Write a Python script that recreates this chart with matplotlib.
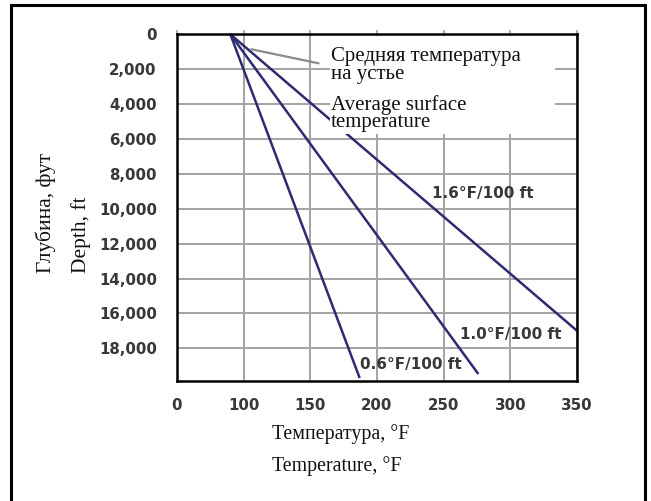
import numpy as np
import matplotlib
matplotlib.use("Agg")
import matplotlib.pyplot as plt
from matplotlib.patches import Rectangle

# ---- data ----
surface_temp = 80            # °F at depth 0
gradient_labels = ["0.6°F/100 ft", "1.0°F/100 ft", "1.6°F/100 ft"]
end_temps = [187, 276, 350]          # °F at line end
end_depths = [19700, 19470, 16990]   # ft at line end
pointer_temps = [106, 156]           # "average surface temperature" pointer
pointer_depths = [860, 1660]
x_ticks = [0, 100, 150, 200, 250, 300, 350]
y_ticks = [0, 2000, 4000, 6000, 8000, 10000, 12000, 14000, 16000, 18000]
y_max = 19870

W, H = 651, 501
fig = plt.figure(figsize=(W / 100, H / 100), dpi=100)
fig.patch.set_facecolor("white")

def fx(px):
    return px / W

def fy(py):
    return 1 - py / H

ax = fig.add_axes([fx(177), fy(381), fx(577) - fx(177), fy(34.3) - fy(381)])

# broken temperature axis: 0..100 compressed to one unit, then 50 °F per unit
def fwd(t):
    t = np.asarray(t, dtype=float)
    return np.where(t <= 100, t / 100.0, 1 + (t - 100) / 50.0)

def inv(p):
    p = np.asarray(p, dtype=float)
    return np.where(p <= 1, p * 100.0, 100 + (p - 1) * 50.0)

ax.set_xscale("function", functions=(fwd, inv))
ax.set_xlim(0, 350)
ax.set_ylim(y_max, 0)

grid_c = "#a3a3a3"
ax.set_xticks(x_ticks)
ax.set_yticks(y_ticks)
ax.set_xticklabels([str(v) for v in x_ticks])
ax.set_yticklabels([f"{v:,}" for v in y_ticks])
ax.grid(True, color=grid_c, lw=1.4, zorder=0)
ax.set_axisbelow(True)
ax.tick_params(axis="x", bottom=False, top=True, labelbottom=True, labeltop=False,
               direction="out", length=3, color=grid_c, width=1.2, pad=9)
ax.tick_params(axis="y", left=False, pad=11)
for lab in ax.get_xticklabels() + ax.get_yticklabels():
    lab.set_fontfamily("DejaVu Sans")
    lab.set_fontweight("bold")
    lab.set_fontsize(10.8)
    lab.set_color("#383838")

for s in ax.spines.values():
    s.set_color("black")
    s.set_linewidth(1.8)
    s.set_zorder(6)

line_c = "#2d2b72"
for t_end, d_end in zip(end_temps, end_depths):
    ax.plot([surface_temp, t_end], [0, d_end], color=line_c, lw=1.8,
            solid_capstyle="butt", zorder=3, clip_on=False)

ax.plot(pointer_temps, pointer_depths, color="#8a8a8a", lw=1.6, zorder=3)

# white box behind the annotation text
ax.add_patch(Rectangle(((330 - 177) / 400, 1 - (134 - 34.3) / 346.7),
                       (555 - 330) / 400, (134 - 36) / 346.7,
                       transform=ax.transAxes, facecolor="white",
                       edgecolor="none", zorder=4))

serif = "Liberation Serif"
ann = dict(family=serif, size=15, color="#111111", ha="left", va="baseline",
           linespacing=0.92)
# va="baseline" on multi-line text anchors the last line's baseline
fig.text(fx(331), fy(78.5), "Средняя температура\nна устье", **ann)
fig.text(fx(331), fy(127.5), "Average surface\ntemperature", **ann)

lab_font = dict(family="DejaVu Sans", weight="bold", size=11, color="#383838",
                ha="left", va="baseline")
fig.text(fx(360), fy(369), gradient_labels[0], **lab_font)
fig.text(fx(460), fy(339), gradient_labels[1], **lab_font)
fig.text(fx(432), fy(198), gradient_labels[2], **lab_font)

xl = dict(family=serif, size=14.3, color="#111111", ha="left", va="baseline")
fig.text(fx(272), fy(438.5), "Температура, °F", **xl)
fig.text(fx(272), fy(471.5), "Temperature, °F", **xl)

yl = dict(family=serif, size=15.5, color="#111111", ha="left", va="baseline",
          rotation=90, rotation_mode="anchor")
fig.text(fx(51), fy(273), "Глубина, фут", **yl)
fig.text(fx(86), fy(273), "Depth, ft", **yl)

# outer frame
fig.add_artist(Rectangle((fx(11), -0.02), fx(645) - fx(11), fy(5) + 0.02,
                         transform=fig.transFigure, fill=False,
                         edgecolor="black", lw=2.2))

fig.savefig("out.png", dpi=100)
